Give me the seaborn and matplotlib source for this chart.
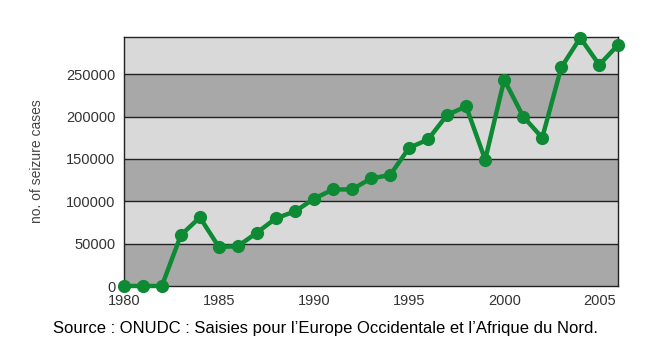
import numpy as np
import pandas as pd
import matplotlib
matplotlib.use("Agg")
import matplotlib.pyplot as plt
import seaborn as sns

years = list(range(1980, 2007))
cases = [0, 0, 0, 60000, 81000, 46000, 47000, 63000, 80000, 88000,
         103000, 114000, 114000, 127000, 131000, 163000, 173000, 202000, 212000, 149000,
         243500, 200000, 175000, 258000, 293000, 261000, 285000]
yticks = [0, 50000, 100000, 150000, 200000, 250000]
xticks = [1980, 1985, 1990, 1995, 2000, 2005]
caption = "Source : ONUDC : Saisies pour l\u2019Europe Occidentale et l\u2019Afrique du Nord."

df = pd.DataFrame({"year": years, "cases": cases})

sns.set_style("white")
plt.rcParams['font.family'] = ['Liberation Sans', 'DejaVu Sans']

fig = plt.figure(figsize=(6.62, 3.52), dpi=100)
ax = fig.add_axes([0.187, 0.1875, 0.747, 0.7075])

ymax = 294000
# bandes grises alternées
edges = yticks + [ymax]
for i in range(len(edges) - 1):
    col = '#a8a8a8' if i % 2 == 0 else '#d9d9d9'
    ax.axhspan(edges[i], edges[i + 1], color=col, zorder=0, lw=0)
for t in yticks[1:]:
    ax.axhline(t, color='#222222', lw=1.0, zorder=1)

sns.lineplot(data=df, x="year", y="cases", ax=ax, color='#0e8a34', lw=3.2,
             marker='o', markersize=9.5, markeredgewidth=0, zorder=3, clip_on=False)

ax.set_xlim(1980, 2006)
ax.set_ylim(0, ymax)
ax.set_xticks(xticks)
ax.set_yticks(yticks)
ax.set_xticklabels([str(x) for x in xticks])
ax.set_yticklabels([str(y) for y in yticks])
ax.tick_params(axis='both', labelsize=10.5, colors='#222222', length=4, width=1,
               direction='out', pad=2)
ax.tick_params(axis='both', labelcolor='#333333')
ax.set_xlabel("")
ax.set_ylabel("no. of seizure cases", fontsize=10, color='#444444', labelpad=16)
for s in ax.spines.values():
    s.set_color('#222222')
    s.set_linewidth(1.0)

fig.text(0.492, 0.068, caption, ha='center', va='center', fontsize=12, color='black')

fig.savefig("out.png", dpi=100)
